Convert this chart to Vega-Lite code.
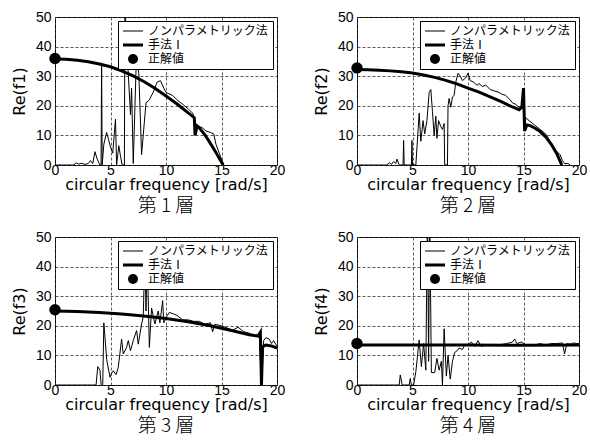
{
  "$schema": "https://vega.github.io/schema/vega-lite/v6.json",
  "autosize": {"type": "pad"},
  "padding": {"left": 10, "top": 9, "right": 0, "bottom": 0},
  "background": "white",
  "datasets": {
    "n1": [{"x":0,"y":0},{"x":1.7,"y":0},{"x":1.9,"y":0.8},{"x":2.1,"y":0.3},{"x":2.4,"y":0.6},{"x":2.7,"y":0.2},{"x":3.0,"y":0.5},{"x":3.2,"y":1.5},{"x":3.4,"y":0.5},{"x":3.6,"y":4.5},{"x":3.8,"y":2},{"x":4.05,"y":0},{"x":4.15,"y":0},{"x":4.2,"y":34.5},{"x":4.25,"y":0},{"x":4.4,"y":7},{"x":4.65,"y":11},{"x":4.8,"y":9},{"x":5.0,"y":6},{"x":5.2,"y":4},{"x":5.45,"y":15.5},{"x":5.55,"y":0},{"x":5.75,"y":6.5},{"x":5.9,"y":3},{"x":6.05,"y":0},{"x":6.25,"y":0},{"x":6.3,"y":55},{"x":6.5,"y":38},{"x":6.6,"y":31},{"x":6.8,"y":17},{"x":6.9,"y":26},{"x":7.05,"y":0.5},{"x":7.3,"y":32},{"x":7.45,"y":33},{"x":7.55,"y":31},{"x":7.8,"y":3.5},{"x":8.05,"y":14.5},{"x":8.2,"y":21},{"x":8.5,"y":22},{"x":8.9,"y":25},{"x":9.2,"y":28},{"x":9.5,"y":28.5},{"x":9.8,"y":26},{"x":10.0,"y":24.5},{"x":10.3,"y":24},{"x":10.6,"y":23.5},{"x":11,"y":22},{"x":11.5,"y":20.5},{"x":12,"y":19},{"x":12.4,"y":17.5},{"x":12.6,"y":15},{"x":12.7,"y":12},{"x":13,"y":13},{"x":13.3,"y":12.5},{"x":13.6,"y":11.5},{"x":14,"y":11},{"x":14.3,"y":10.5},{"x":14.5,"y":7},{"x":14.8,"y":4},{"x":15.2,"y":0}],
    "m1": [{"x":0,"y":35.8},{"x":1,"y":35.7},{"x":2,"y":35.4},{"x":3,"y":34.9},{"x":4,"y":34.1},{"x":5,"y":33.2},{"x":6,"y":31.8},{"x":7,"y":30.2},{"x":8,"y":28.2},{"x":9,"y":25.9},{"x":10,"y":23.3},{"x":11,"y":20.6},{"x":12,"y":17.6},{"x":12.55,"y":16},{"x":12.62,"y":10},{"x":12.8,"y":13.2},{"x":13,"y":12.6},{"x":13.5,"y":10.2},{"x":14,"y":7.3},{"x":14.5,"y":4.2},{"x":15.15,"y":0}],
    "t1": [{"x":0,"y":36}],
    "n2": [{"x":0,"y":0},{"x":2.7,"y":0},{"x":2.9,"y":0.8},{"x":3.1,"y":0.2},{"x":3.3,"y":1.2},{"x":3.5,"y":0.5},{"x":3.6,"y":2},{"x":3.8,"y":0},{"x":4.15,"y":0},{"x":4.2,"y":8.3},{"x":4.25,"y":0},{"x":4.9,"y":0},{"x":4.95,"y":8.3},{"x":5.0,"y":0},{"x":5.3,"y":0},{"x":5.6,"y":17.5},{"x":5.75,"y":8},{"x":5.95,"y":15},{"x":6.1,"y":10.5},{"x":6.3,"y":15},{"x":6.5,"y":24.5},{"x":6.65,"y":25.5},{"x":6.8,"y":18},{"x":6.95,"y":10},{"x":7.1,"y":16.5},{"x":7.2,"y":9},{"x":7.35,"y":15},{"x":7.55,"y":13},{"x":7.7,"y":12},{"x":7.85,"y":14},{"x":7.9,"y":0},{"x":8.15,"y":0},{"x":8.2,"y":20},{"x":8.3,"y":22.5},{"x":8.45,"y":19.5},{"x":8.6,"y":23},{"x":8.75,"y":23.5},{"x":8.9,"y":28},{"x":9.1,"y":31},{"x":9.3,"y":30},{"x":9.5,"y":28.5},{"x":9.8,"y":29.5},{"x":10.0,"y":31},{"x":10.2,"y":28.5},{"x":10.5,"y":28},{"x":10.8,"y":27},{"x":11,"y":27.5},{"x":11.3,"y":26.5},{"x":11.6,"y":27},{"x":12,"y":25.5},{"x":12.4,"y":25},{"x":12.8,"y":24.5},{"x":13,"y":24},{"x":13.4,"y":23.5},{"x":13.8,"y":22},{"x":14,"y":21},{"x":14.3,"y":20.5},{"x":14.6,"y":19.5},{"x":14.85,"y":20},{"x":15.0,"y":26},{"x":15.1,"y":12},{"x":15.2,"y":16},{"x":15.5,"y":15},{"x":16,"y":13.5},{"x":16.5,"y":12},{"x":17,"y":10.5},{"x":17.5,"y":7.5},{"x":18,"y":4.5},{"x":18.3,"y":3.5},{"x":18.5,"y":1.5},{"x":18.7,"y":0.5},{"x":19,"y":0.5},{"x":19.2,"y":0}],
    "m2": [{"x":0,"y":32.3},{"x":1,"y":32.2},{"x":2,"y":32},{"x":3,"y":31.8},{"x":4,"y":31.5},{"x":5,"y":31.1},{"x":6,"y":30.4},{"x":7,"y":29.6},{"x":8,"y":28.6},{"x":9,"y":27.4},{"x":10,"y":26},{"x":11,"y":24.6},{"x":12,"y":23},{"x":13,"y":21.4},{"x":14,"y":19.6},{"x":14.6,"y":18.7},{"x":14.85,"y":19.5},{"x":15.0,"y":26},{"x":15.1,"y":11.5},{"x":15.3,"y":13.5},{"x":15.6,"y":13.3},{"x":16,"y":12.5},{"x":16.5,"y":11.3},{"x":17,"y":9.5},{"x":17.5,"y":7},{"x":18,"y":3.8},{"x":18.45,"y":0}],
    "t2": [{"x":0,"y":32.8}],
    "n3": [{"x":0,"y":0},{"x":3.7,"y":0},{"x":3.85,"y":6.2},{"x":4.05,"y":5},{"x":4.2,"y":-2},{"x":4.3,"y":0},{"x":4.4,"y":21},{"x":4.66,"y":8.5},{"x":4.96,"y":2.6},{"x":5.1,"y":4},{"x":5.25,"y":4.8},{"x":5.5,"y":3.5},{"x":5.7,"y":6},{"x":6.0,"y":15.5},{"x":6.15,"y":10.5},{"x":6.45,"y":12.7},{"x":6.6,"y":15},{"x":6.8,"y":11.6},{"x":7.05,"y":15},{"x":7.35,"y":18.4},{"x":7.5,"y":13.8},{"x":7.8,"y":20.6},{"x":7.95,"y":23},{"x":8.1,"y":45},{"x":8.2,"y":25},{"x":8.3,"y":45},{"x":8.5,"y":12.7},{"x":8.7,"y":26},{"x":9.0,"y":20.6},{"x":9.3,"y":25},{"x":9.45,"y":21},{"x":9.7,"y":28.5},{"x":9.8,"y":21},{"x":10.1,"y":23.4},{"x":10.3,"y":24.5},{"x":10.7,"y":24},{"x":11,"y":23.5},{"x":11.5,"y":22},{"x":12,"y":22},{"x":12.5,"y":21.5},{"x":13,"y":21.5},{"x":13.5,"y":20.5},{"x":14,"y":21},{"x":14.2,"y":18},{"x":14.4,"y":20.5},{"x":15,"y":20},{"x":16,"y":18.5},{"x":16.5,"y":19.5},{"x":17,"y":18},{"x":17.5,"y":17.5},{"x":18,"y":16.5},{"x":18.4,"y":17.5},{"x":18.6,"y":0},{"x":18.8,"y":15},{"x":19,"y":16},{"x":19.3,"y":15.5},{"x":19.5,"y":14},{"x":19.7,"y":15},{"x":20,"y":13}],
    "m3": [{"x":0,"y":25},{"x":2,"y":24.8},{"x":4,"y":24.5},{"x":6,"y":24},{"x":8,"y":23.3},{"x":10,"y":22.5},{"x":12,"y":21.4},{"x":14,"y":20},{"x":16,"y":18.3},{"x":17.5,"y":17},{"x":18.3,"y":16.5},{"x":18.5,"y":17.8},{"x":18.6,"y":0},{"x":18.7,"y":13},{"x":19,"y":13.5},{"x":19.5,"y":13.2},{"x":20,"y":12.5}],
    "t3": [{"x":0,"y":25.4}],
    "n4": [{"x":0,"y":0},{"x":3.8,"y":0},{"x":3.9,"y":3.4},{"x":4.07,"y":0},{"x":4.7,"y":0},{"x":4.8,"y":2.2},{"x":4.9,"y":0},{"x":5.1,"y":0},{"x":5.3,"y":4.5},{"x":5.6,"y":15.2},{"x":5.8,"y":6.2},{"x":6.0,"y":14},{"x":6.2,"y":5},{"x":6.35,"y":60},{"x":6.45,"y":8},{"x":6.55,"y":60},{"x":6.7,"y":4.2},{"x":7.0,"y":4.2},{"x":7.2,"y":9},{"x":7.4,"y":5},{"x":7.6,"y":8},{"x":7.7,"y":0},{"x":7.85,"y":19},{"x":8.05,"y":3},{"x":8.2,"y":10},{"x":8.4,"y":2},{"x":8.6,"y":8},{"x":8.8,"y":11},{"x":9.0,"y":11.5},{"x":9.2,"y":12.5},{"x":9.5,"y":12},{"x":9.7,"y":13.5},{"x":10,"y":13.5},{"x":10.3,"y":14.5},{"x":10.6,"y":13},{"x":10.9,"y":15},{"x":11.2,"y":13},{"x":11.5,"y":13.5},{"x":12,"y":13.5},{"x":12.5,"y":13.5},{"x":13,"y":13.7},{"x":13.5,"y":14},{"x":14,"y":14.5},{"x":14.2,"y":15.5},{"x":14.4,"y":14},{"x":14.8,"y":14.5},{"x":15.2,"y":13.5},{"x":16,"y":13.5},{"x":16.5,"y":14},{"x":17,"y":13.5},{"x":17.5,"y":14},{"x":18,"y":14},{"x":18.5,"y":14.2},{"x":18.7,"y":10.5},{"x":18.9,"y":14},{"x":19.2,"y":13.8},{"x":19.5,"y":14.2},{"x":19.8,"y":14},{"x":20,"y":14}],
    "m4": [{"x":0,"y":13.5},{"x":5,"y":13.5},{"x":10,"y":13.5},{"x":15,"y":13.4},{"x":20,"y":13.5}],
    "t4": [{"x":0,"y":14}]
  },
  "columns": 2,
  "spacing": {"row": 72, "column": 80},
  "bounds": "flush",
  "resolve": {"scale": {"color": "independent"}, "legend": {"color": "independent"}},
  "concat": [
    {
      "width": 222, "height": 148,
      "title": {"text": "第 1 層"},
      "encoding": {
        "x": {"field": "x", "type": "quantitative", "scale": {"domain": [0, 20], "nice": false}, "axis": {"values": [0,5,10,15,20], "title": "circular frequency [rad/s]"}},
        "y": {"field": "y", "type": "quantitative", "scale": {"domain": [0, 50], "nice": false}, "axis": {"values": [0,10,20,30,40,50], "title": "Re(f1)"}}
      },
      "layer": [
        {"data": {"name": "n1"}, "mark": {"type": "line", "strokeWidth": 1, "clip": true},
         "encoding": {
           "color": {"datum": "ノンパラメトリック法", "type": "nominal", "scale": {"domain": ["ノンパラメトリック法", "手法Ⅰ", "正解値"], "range": ["black", "black", "black"]},
             "legend": {"title": null, "encode": {"symbols": {"update": {"shape": {"signal": "datum.value === '正解値' ? 'circle' : 'M-2,0H2'"}, "strokeWidth": {"signal": "datum.value === '手法Ⅰ' ? 3 : datum.value === '正解値' ? 0 : 1"}, "fill": {"signal": "datum.value === '正解値' ? 'black' : 'transparent'"}, "stroke": {"value": "black"}, "opacity": {"value": 1}}}}}}
         }},
        {"data": {"name": "m1"}, "mark": {"type": "line", "strokeWidth": 3, "clip": true},
         "encoding": {"color": {"datum": "手法Ⅰ", "type": "nominal"}}},
        {"data": {"name": "t1"}, "mark": {"type": "point", "filled": true, "size": 130, "opacity": 1},
         "encoding": {"color": {"datum": "正解値", "type": "nominal"}}}
      ]
    },
    {
      "width": 222, "height": 148,
      "title": {"text": "第 2 層"},
      "encoding": {
        "x": {"field": "x", "type": "quantitative", "scale": {"domain": [0, 20], "nice": false}, "axis": {"values": [0,5,10,15,20], "title": "circular frequency [rad/s]"}},
        "y": {"field": "y", "type": "quantitative", "scale": {"domain": [0, 50], "nice": false}, "axis": {"values": [0,10,20,30,40,50], "title": "Re(f2)"}}
      },
      "layer": [
        {"data": {"name": "n2"}, "mark": {"type": "line", "strokeWidth": 1, "clip": true},
         "encoding": {
           "color": {"datum": "ノンパラメトリック法", "type": "nominal", "scale": {"domain": ["ノンパラメトリック法", "手法Ⅰ", "正解値"], "range": ["black", "black", "black"]},
             "legend": {"title": null, "encode": {"symbols": {"update": {"shape": {"signal": "datum.value === '正解値' ? 'circle' : 'M-2,0H2'"}, "strokeWidth": {"signal": "datum.value === '手法Ⅰ' ? 3 : datum.value === '正解値' ? 0 : 1"}, "fill": {"signal": "datum.value === '正解値' ? 'black' : 'transparent'"}, "stroke": {"value": "black"}, "opacity": {"value": 1}}}}}}
         }},
        {"data": {"name": "m2"}, "mark": {"type": "line", "strokeWidth": 3, "clip": true},
         "encoding": {"color": {"datum": "手法Ⅰ", "type": "nominal"}}},
        {"data": {"name": "t2"}, "mark": {"type": "point", "filled": true, "size": 130, "opacity": 1},
         "encoding": {"color": {"datum": "正解値", "type": "nominal"}}}
      ]
    },
    {
      "width": 222, "height": 148,
      "title": {"text": "第 3 層"},
      "encoding": {
        "x": {"field": "x", "type": "quantitative", "scale": {"domain": [0, 20], "nice": false}, "axis": {"values": [0,5,10,15,20], "title": "circular frequency [rad/s]"}},
        "y": {"field": "y", "type": "quantitative", "scale": {"domain": [0, 50], "nice": false}, "axis": {"values": [0,10,20,30,40,50], "title": "Re(f3)"}}
      },
      "layer": [
        {"data": {"name": "n3"}, "mark": {"type": "line", "strokeWidth": 1, "clip": true},
         "encoding": {
           "color": {"datum": "ノンパラメトリック法", "type": "nominal", "scale": {"domain": ["ノンパラメトリック法", "手法Ⅰ", "正解値"], "range": ["black", "black", "black"]},
             "legend": {"title": null, "encode": {"symbols": {"update": {"shape": {"signal": "datum.value === '正解値' ? 'circle' : 'M-2,0H2'"}, "strokeWidth": {"signal": "datum.value === '手法Ⅰ' ? 3 : datum.value === '正解値' ? 0 : 1"}, "fill": {"signal": "datum.value === '正解値' ? 'black' : 'transparent'"}, "stroke": {"value": "black"}, "opacity": {"value": 1}}}}}}
         }},
        {"data": {"name": "m3"}, "mark": {"type": "line", "strokeWidth": 3, "clip": true},
         "encoding": {"color": {"datum": "手法Ⅰ", "type": "nominal"}}},
        {"data": {"name": "t3"}, "mark": {"type": "point", "filled": true, "size": 130, "opacity": 1},
         "encoding": {"color": {"datum": "正解値", "type": "nominal"}}}
      ]
    },
    {
      "width": 222, "height": 148,
      "title": {"text": "第 4 層"},
      "encoding": {
        "x": {"field": "x", "type": "quantitative", "scale": {"domain": [0, 20], "nice": false}, "axis": {"values": [0,5,10,15,20], "title": "circular frequency [rad/s]"}},
        "y": {"field": "y", "type": "quantitative", "scale": {"domain": [0, 50], "nice": false}, "axis": {"values": [0,10,20,30,40,50], "title": "Re(f4)"}}
      },
      "layer": [
        {"data": {"name": "n4"}, "mark": {"type": "line", "strokeWidth": 1, "clip": true},
         "encoding": {
           "color": {"datum": "ノンパラメトリック法", "type": "nominal", "scale": {"domain": ["ノンパラメトリック法", "手法Ⅰ", "正解値"], "range": ["black", "black", "black"]},
             "legend": {"title": null, "encode": {"symbols": {"update": {"shape": {"signal": "datum.value === '正解値' ? 'circle' : 'M-2,0H2'"}, "strokeWidth": {"signal": "datum.value === '手法Ⅰ' ? 3 : datum.value === '正解値' ? 0 : 1"}, "fill": {"signal": "datum.value === '正解値' ? 'black' : 'transparent'"}, "stroke": {"value": "black"}, "opacity": {"value": 1}}}}}}
         }},
        {"data": {"name": "m4"}, "mark": {"type": "line", "strokeWidth": 3, "clip": true},
         "encoding": {"color": {"datum": "手法Ⅰ", "type": "nominal"}}},
        {"data": {"name": "t4"}, "mark": {"type": "point", "filled": true, "size": 130, "opacity": 1},
         "encoding": {"color": {"datum": "正解値", "type": "nominal"}}}
      ]
    }
  ],
  "config": {
    "view": {"stroke": "black", "strokeWidth": 1},
    "axis": {"grid": true, "gridColor": "#333333", "gridDash": [3, 2], "gridWidth": 0.8, "domain": false, "ticks": false,
             "labelFont": "Liberation Sans", "labelFontSize": 14, "labelColor": "black", "labelFlush": false, "labelOverlap": false, "labelBound": false,
             "titleFont": "DejaVu Sans", "titleFontSize": 16, "titleFontWeight": "normal", "titleColor": "black"},
    "axisX": {"labelPadding": -2, "titlePadding": -1},
    "axisY": {"labelPadding": 4, "titlePadding": 8},
    "title": {"font": "Noto Sans CJK JP", "fontSize": 19, "fontWeight": 300, "color": "black", "orient": "bottom", "offset": 5, "anchor": "middle"},
    "legend": {"orient": "top-right", "offset": 4, "padding": 4, "strokeColor": "black", "strokeWidth": 1, "fillColor": "white",
               "labelFont": "Noto Sans CJK JP", "labelFontSize": 12, "labelColor": "black", "symbolSize": 100, "rowPadding": 2,
               "labelOffset": 9, "symbolOffset": 5, "labelLimit": 300}
  }
}
